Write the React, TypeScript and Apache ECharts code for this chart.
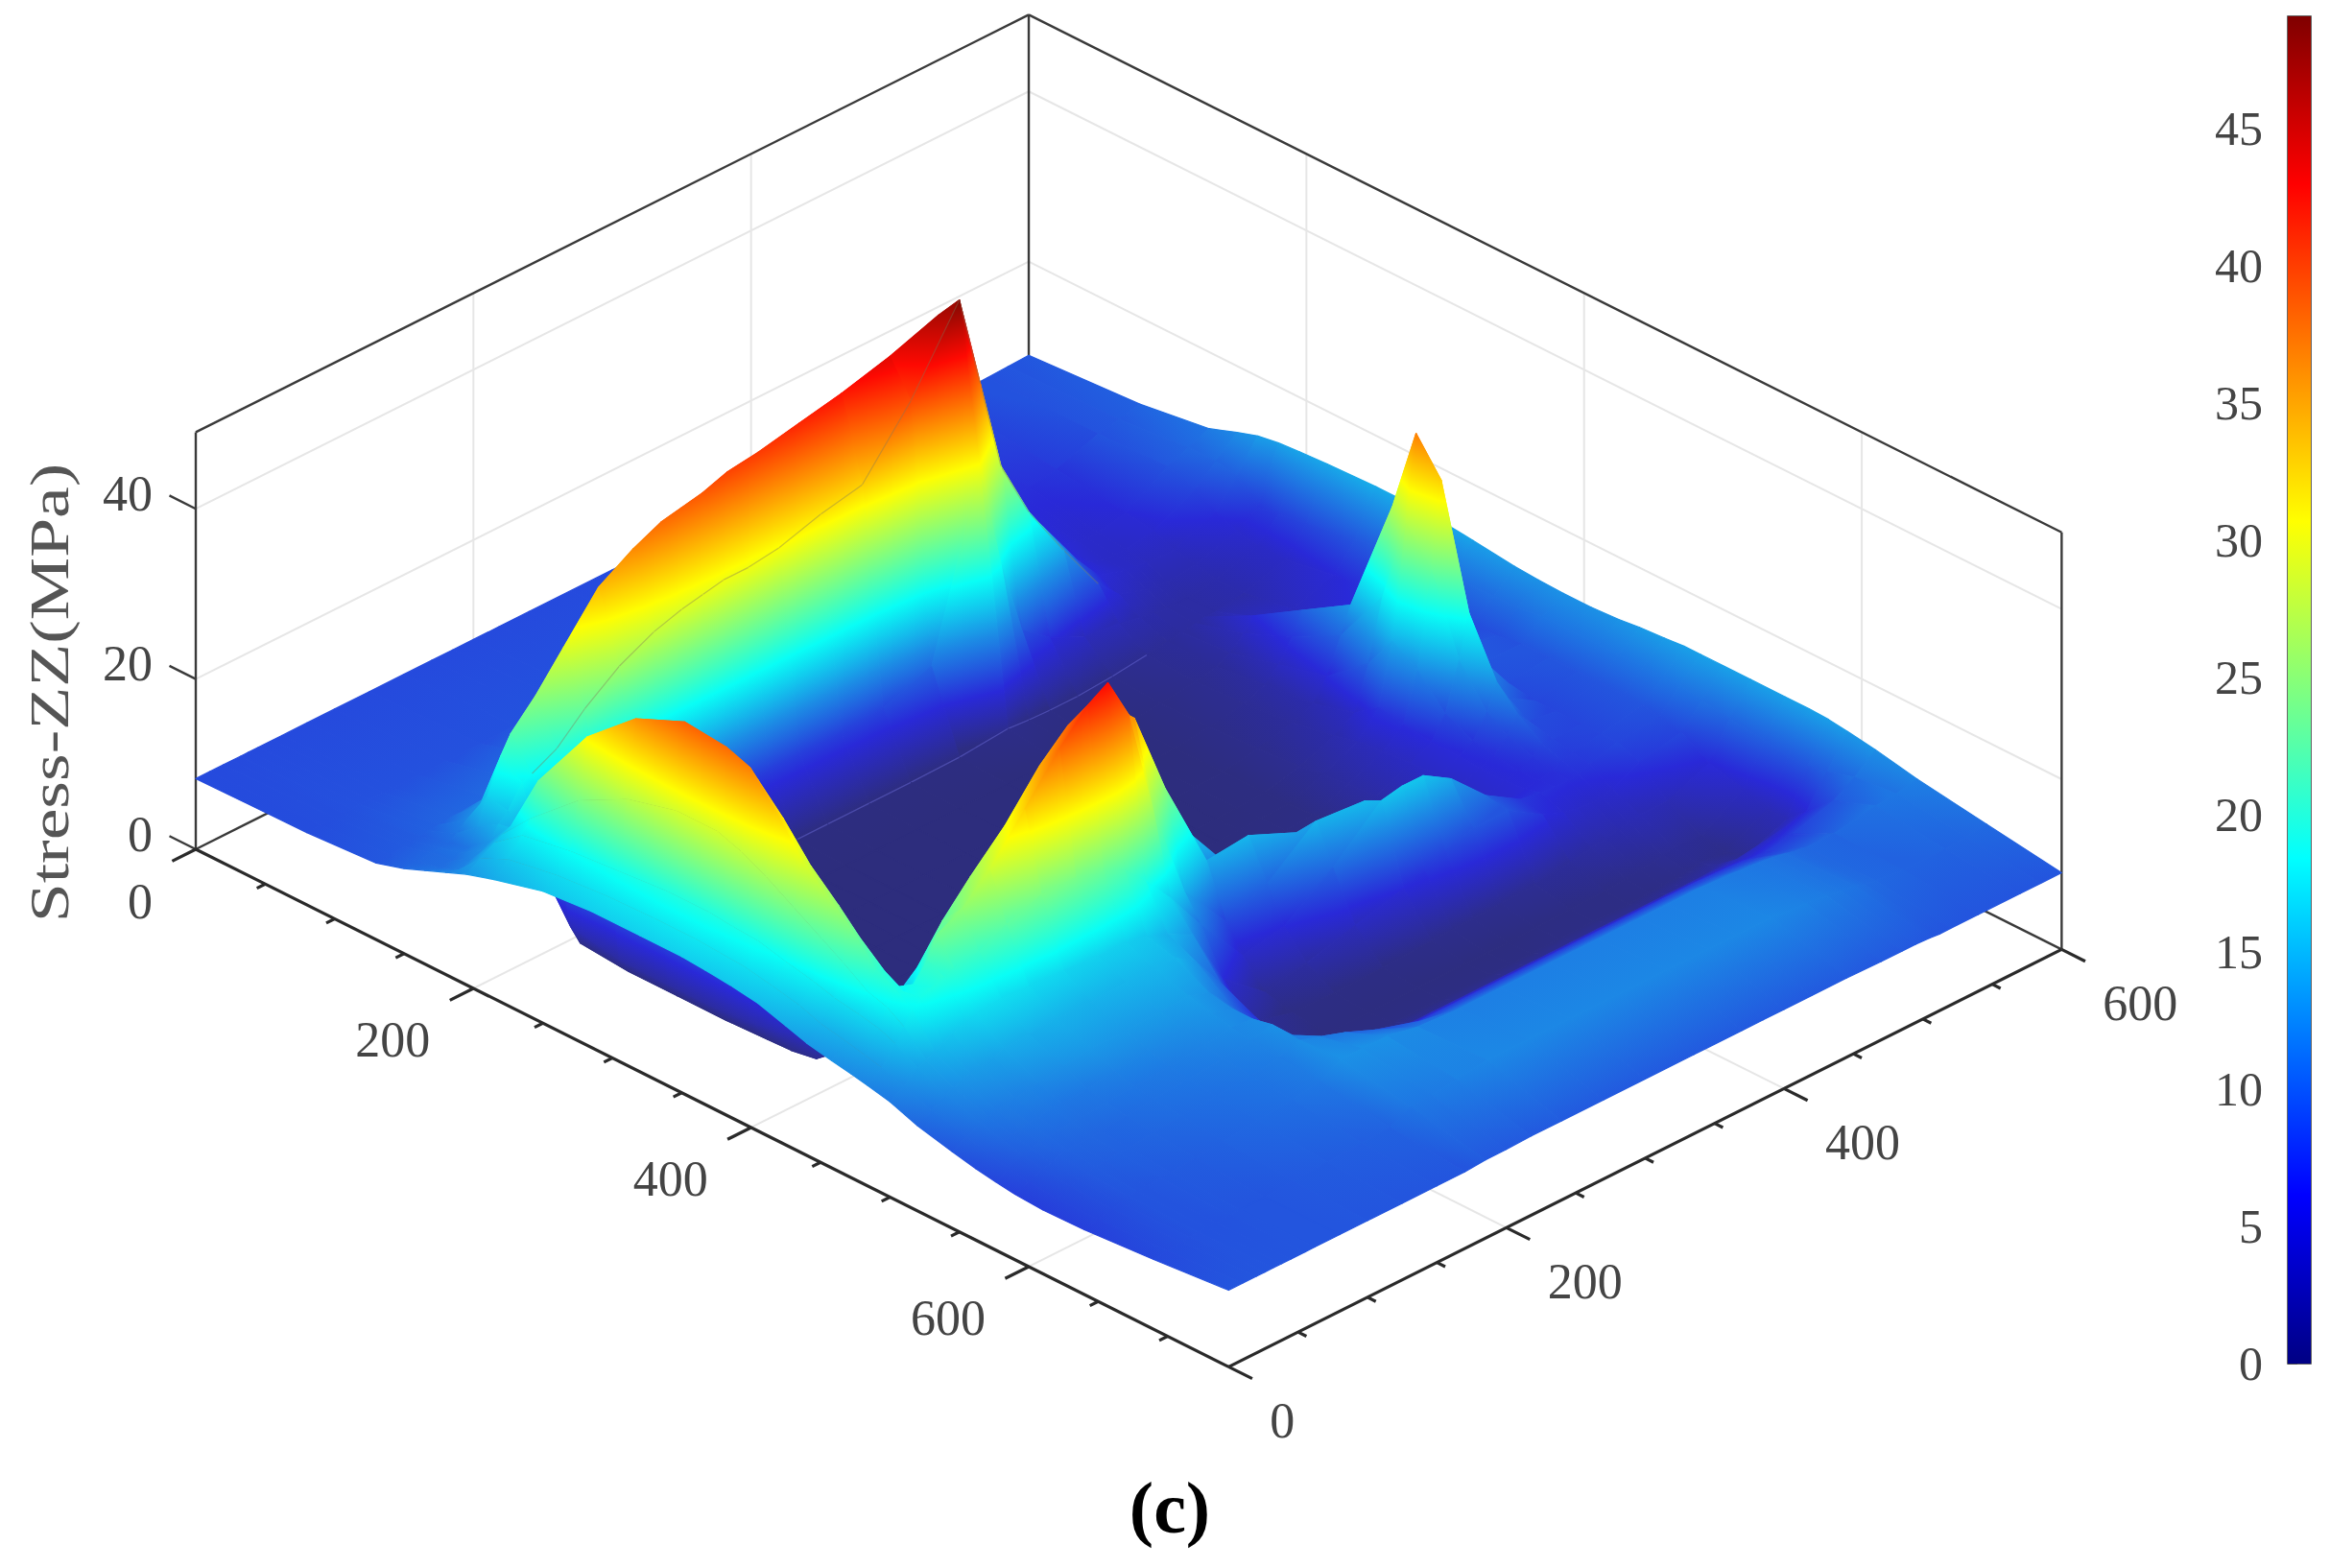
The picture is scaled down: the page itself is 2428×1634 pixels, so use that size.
import React, { useEffect, useRef } from "react";
import * as echarts from "echarts";

const WIDTH = 2428;
const HEIGHT = 1634;

// Surface sample positions (mm) and values (MPa).
const xGrid = [0, 80, 130, 150, 165, 180, 195, 215, 250, 285, 320, 350, 367, 385, 405, 425, 440, 458, 472, 484, 500, 520, 545, 562, 576, 590, 610, 640, 690, 744];
const yGrid = [0, 10, 20, 26, 32, 38, 45, 55, 62, 80, 100, 125, 150, 170, 185, 200, 218, 240, 270, 300, 335, 370, 385, 400, 420, 445, 470, 485, 495, 505, 512, 520, 540, 570, 585, 600];
const stressZZ = [
  [8.3,8.5,9,10,11,12,13,14,15.5,16,16,16,15.8,15.5,15,14,13.2,12.6,12.2,11.8,11.2,10,9,8.4,8,7.7,7.5,7.6,8.2,9],
  [8.3,8.5,9.2,10,10.5,11.5,14,15.5,16.5,17,17.2,17.2,17,16.8,16.2,15.5,14.6,14,13.5,13,12.2,11,10,9.2,8.7,8.3,8,8,8.4,9],
  [8.3,8.6,9.3,10.2,10.5,12,15,17.5,18.5,19,19.5,19.5,19.2,19,18.2,17.5,16.8,16.3,15.8,15,13.5,12,10.8,10,9.5,9,8.6,8.4,8.6,9],
  [8.3,8.6,9.4,10.3,11,12.5,15.5,19,24,27,28.5,28.5,27.5,26,24,22,20.5,18.5,17.8,16.5,14,12.4,11,10.2,9.8,9.3,8.9,8.6,8.7,9],
  [8.3,8.7,9.5,10.3,11,13,16,23,31,36,38.5,38,37,33.5,29,26,24,20.5,19.5,18,14.5,12.8,11.2,10.5,10,9.6,9.2,8.9,8.8,9],
  [8.3,8.7,9.7,11,13,14.5,15,20,29,34,36,36,35,32,28,25,22.5,20,18.7,19,15,13,11.4,10.7,10.2,9.8,9.4,9,8.8,9],
  [8.3,8.7,9.8,12,16,15.5,13,14,20,24,26,26,25,23,21,21,19,17.5,19,19.5,15.5,13.2,11.6,10.8,10.3,9.9,9.5,9,8.8,9],
  [8.3,8.7,10,13,20,18,9,4,3,3,3,3.5,4,5,9,14,13,16,21,20,16,13.5,11.8,11,10.5,10,9.7,9.2,8.9,9],
  [8.3,8.7,10,13.5,22,18.5,8,1.5,1,1,1,1.2,1.3,1.8,5,9,13,18.5,23.5,20.5,16.5,14,12,11,10.5,10,9.7,9.3,9,9],
  [8.3,8.7,10.2,15,25,20,7,1,0.8,0.8,0.8,0.9,1,1.2,2.5,7,13,22.5,25,21,16.8,14.2,12.5,11.2,10.8,10.3,10,9.5,9,9],
  [8.3,8.7,10.5,16,29,23,7,1,0.8,0.8,0.8,0.8,0.9,1,2,5,11,26,28,22.5,16.6,14.4,13,11.7,11,10.7,10.3,9.8,9.2,9],
  [8.3,8.7,11,18,34,26,7,1,0.7,0.7,0.7,0.7,0.8,0.9,1.5,4,10,30,33,24,16.4,14.4,13,12,11.3,11,10.6,10.2,9.4,9],
  [8.3,8.8,11.5,19,36.5,28,7,1,0.7,0.7,0.7,0.7,0.7,0.8,1.2,3.5,9,35,38,24,16,14.6,13.2,12.3,11.8,11.4,11,10.6,9.6,9],
  [8.3,8.8,12,20,38,29,7,0.9,0.7,0.7,0.7,0.7,0.7,0.8,1.2,3.5,10,38,41.5,23,16,14.6,13.4,12.7,12.2,11.8,11.4,11.2,9.8,9],
  [8.3,8.8,12,20,38.5,29.5,7,0.9,0.7,0.7,0.7,0.7,0.7,0.8,1.2,4,12,39,43,22,15.5,14.6,12.5,12,12,12.5,12.3,12.5,11,9.2],
  [8.3,8.8,12,20.5,39,30,7,0.9,0.7,0.7,0.7,0.7,0.7,0.8,1.3,5,15,38,38,19.5,14.5,13,10,9,9,10,11.5,12.5,11.2,9.2],
  [8.3,8.8,12,20.5,40,30,7.5,0.9,0.7,0.7,0.7,0.7,0.7,0.8,1.5,8,22,35,25,16,13,9,7,6,6,7.5,10.5,12.5,11.5,9.3],
  [8.3,8.8,12,21,40.5,30.5,7.5,0.9,0.7,0.7,0.7,0.7,0.7,0.8,2,10,24,25,14,11,6,2.5,1.5,1.5,2.5,6,9,11.8,12,9.3],
  [8.3,8.8,12,21,41.5,32,7.5,0.9,0.7,0.7,0.7,0.7,0.7,0.8,2,8,16.5,14,8,5,2,1.2,0.9,1,2.3,4.5,7.5,11.5,12,9.3],
  [8.3,8.8,12,22,42.5,33,8,0.9,0.7,0.7,0.7,0.7,0.7,0.8,1.5,4,10,14.5,10,6,3,1.1,0.9,1,2.2,4.5,7.5,11.5,12,9.3],
  [8.3,8.8,12,23,44,40,10,1,0.7,0.7,0.7,0.7,0.7,0.8,1.2,2.5,5,12,14.5,10,4.5,1.2,0.9,1,2,4.5,7.5,11.5,12,9.3],
  [8.3,8.8,12,24,46,49,30,1.5,0.7,0.7,0.7,0.7,0.7,0.8,1,1.8,3,8,14,15,6,1.5,0.9,1,2,4.5,7.5,11.5,12,9.3],
  [8.4,8.8,12,22,36,38,18,1.3,0.7,0.7,0.7,0.7,0.8,0.9,1,1.6,2.5,6,12,15.5,7,1.6,0.9,1,2,4.5,7.5,11.5,12,9.3],
  [8.4,8.8,11.5,18,27,27,9,1.2,0.7,0.7,0.8,0.8,0.9,1,1.2,1.6,2.5,4.5,10,15.5,8,1.6,0.9,1,2,4.5,7.5,11.5,12,9.3],
  [8.4,8.8,11,16,21,20,6.5,1.2,0.8,0.8,0.9,1,1,1.2,1.5,2,2.8,4,7.5,13.5,9,1.8,1,1.1,2,4.5,7.5,11.5,12,9.3],
  [8.4,8.8,10.5,13,15,13.5,4.5,1.5,1.2,1.3,1.6,2,2.4,2.8,3,3.5,4,4.5,6,9.5,9,2,1.1,1.1,2,4.5,7.5,11.5,12,9.3],
  [8.5,8.4,8,8,9,7.5,4,2,1.7,2,2.6,3.5,4.2,4.5,4.8,5,5,5.2,5.5,7,6.5,2.5,1.2,1.1,2,4.5,7.5,11.2,11.6,9.2],
  [8.5,7.5,7,6.5,6,5,3.5,2.3,2.2,3,3.6,5,7,6.5,6,6,5.8,5.8,6,6.5,5.5,3,1.4,1.2,2.2,4.5,7.4,11,11.3,9.2],
  [8.6,7,6,5.5,5.5,4.5,3.2,2.6,3,4.5,6,10,14,12,8.5,7,6.5,6.2,6.2,6.4,5.2,3.2,1.6,1.3,2.3,4.5,7.3,10.8,11,9.2],
  [8.6,6.5,5.5,5,5,4,3,2.8,4.5,7,10,17,27,23,14,9.5,8,7,6.5,6.4,5,3.5,1.8,1.4,2.4,4.5,7.2,10.5,10.8,9.1],
  [8.6,6.5,5.3,5,4.8,3.8,3,3,6,9.5,13,27,37,33,19,12.5,10,8,7.2,6.6,5.2,3.8,2,1.5,2.5,4.5,7,10.2,10.4,9],
  [8.6,6.5,5.3,5,4.6,3.6,3,3,5,7.5,11,17,24,20,13,10,8.5,7.8,7.4,7,5.4,4,2.2,1.7,2.7,4.5,7,10,10.2,9],
  [8.7,7,6,5.5,4.5,4,3.5,3.5,4.5,6,7,8.5,9.5,9,8.5,8,8,8,8,8,7,4,2,1.5,2,5,7.5,10,9.8,9],
  [8.8,8.7,9,8,6.5,5.5,5,5,6,7,8,8.5,8.5,9,9,9,9,9,9,8.5,8,6,5,4,4,6,9,10.8,9.8,9],
  [8.9,9.2,10,10,9.5,7,7.5,8,9,10,10.5,10.5,10.5,11,11,11,11,11,11,11,10.5,10,9.5,9,9,9.5,10.5,11,10,9],
  [9,9.8,11,12.2,13,13.4,13.6,13.8,14,14,13.4,12.8,12.6,12.5,12.5,12.7,13,13.2,13.4,13.4,13.4,13.4,13.4,13.4,13.3,13,12.5,11.5,10.3,9],
];

const xMax = 744;
const yMax = 600;
const zMax = 49;
const colorMax = 49.1;
const xTicks = [0, 50, 100, 150, 200, 250, 300, 350, 400, 450, 500, 550, 600, 650, 700];
const yTicks = [0, 50, 100, 150, 200, 250, 300, 350, 400, 450, 500, 550, 600];
const xLabels = [0, 200, 400, 600];
const yLabels = [0, 200, 400, 600];
const zLabels = [0, 20, 40];
const gridX = [200, 400, 600];
const gridY = [200, 400];
const gridZ = [20, 40];
const contourRows = [10, 20, 26];
const contourCols = [180, 215];

const PX = 1.4467;
const ORIGIN_X = 204;
const ORIGIN_Y = 885;
const hMin = -ORIGIN_X / PX;
const hMax = (WIDTH - ORIGIN_X) / PX;
const vMax = ORIGIN_Y / PX;
const vMin = (ORIGIN_Y - HEIGHT) / PX;
const projH = (x: number, y: number) => x + y;
const projV = (x: number, y: number, z: number) => (y - x) * 0.5011 + z * 6.131;

const JET: [number, number, number, number][] = [
  [0, 0, 0, 132],
  [0.125, 0, 0, 255],
  [0.375, 0, 255, 255],
  [0.625, 255, 255, 0],
  [0.875, 255, 0, 0],
  [1, 128, 0, 0],
];
const jetRaw = (t: number) => {
  const c = Math.max(0, Math.min(1, t));
  for (let i = 1; i < JET.length; i++) {
    if (c <= JET[i][0]) {
      const a = JET[i - 1];
      const b = JET[i];
      const f = (c - a[0]) / (b[0] - a[0]);
      return [a[1] + (b[1] - a[1]) * f, a[2] + (b[2] - a[2]) * f, a[3] + (b[3] - a[3]) * f];
    }
  }
  return [128, 0, 0];
};
const meshed = (t: number) => {
  const c = jetRaw(t);
  const m = t < 0.125 ? 0.2 - 0.16 * t : t < 0.25 ? 0.18 - 0.48 * (t - 0.125) : t < 0.375 ? 0.12 - 0.56 * (t - 0.25) : 0.04;
  return `rgb(${Math.round(c[0] * (1 - m) + 230 * m)},${Math.round(c[1] * (1 - m) + 230 * m)},${Math.round(c[2] * (1 - m) + 40 * m)})`;
};
const STOP_T = [0, 0.125, 0.25, 0.375, 0.625, 0.875, 1];

function cellFill(pts: number[][], zs: number[]) {
  const zmin = Math.min(...zs);
  const zmax = Math.max(...zs);
  const t0 = zmin / colorMax;
  const t1 = zmax / colorMax;
  if (zmax - zmin < 0.05) return meshed((t0 + t1) / 2);
  let cx = 0, cy = 0, cz = 0;
  for (let i = 0; i < 4; i++) { cx += pts[i][0] / 4; cy += pts[i][1] / 4; cz += zs[i] / 4; }
  let sxx = 0, sxy = 0, syy = 0, sxz = 0, syz = 0;
  for (let i = 0; i < 4; i++) {
    const dx = pts[i][0] - cx, dy = pts[i][1] - cy, dz = zs[i] - cz;
    sxx += dx * dx; sxy += dx * dy; syy += dy * dy; sxz += dx * dz; syz += dy * dz;
  }
  const det = sxx * syy - sxy * sxy;
  let a = 0, b = 0;
  if (Math.abs(det) > 1) {
    a = (sxz * syy - syz * sxy) / det;
    b = (syz * sxx - sxz * sxy) / det;
  }
  let g = a * a + b * b;
  if (g < 1e-8) {
    const iMin = zs.indexOf(zmin), iMax = zs.indexOf(zmax);
    const ex = pts[iMax][0] - pts[iMin][0], ey = pts[iMax][1] - pts[iMin][1];
    const e2 = ex * ex + ey * ey;
    if (e2 < 1e-3) return meshed((t0 + t1) / 2);
    a = (ex / e2) * (zmax - zmin);
    b = (ey / e2) * (zmax - zmin);
    g = a * a + b * b;
  }
  const sx = cx + ((zmin - cz) * a) / g;
  const sy = cy + ((zmin - cz) * b) / g;
  const ex = cx + ((zmax - cz) * a) / g;
  const ey = cy + ((zmax - cz) * b) / g;
  const stops = [{ offset: 0, color: meshed(t0) }];
  for (const t of STOP_T) {
    if (t > t0 && t < t1) stops.push({ offset: (t - t0) / (t1 - t0), color: meshed(t) });
  }
  stops.push({ offset: 1, color: meshed(t1) });
  return new echarts.graphic.LinearGradient(sx, sy, ex, ey, stops, true);
}

const surfaceCells: number[][] = [];
for (let i = 0; i < xGrid.length - 1; i++) {
  for (let j = yGrid.length - 2; j >= 0; j--) {
    surfaceCells.push([
      xGrid[i], xGrid[i + 1], yGrid[j], yGrid[j + 1],
      stressZZ[j][i], stressZZ[j][i + 1], stressZZ[j + 1][i + 1], stressZZ[j + 1][i],
    ]);
  }
}

type Seg = number[];
const wallGrid: Seg[] = [];
for (const z of gridZ) {
  wallGrid.push([0, 0, z, 0, yMax, z]);
  wallGrid.push([0, yMax, z, xMax, yMax, z]);
}
for (const y of gridY) {
  wallGrid.push([0, y, 0, 0, y, zMax]);
  wallGrid.push([0, y, 0, xMax, y, 0]);
}
for (const x of gridX) {
  wallGrid.push([x, yMax, 0, x, yMax, zMax]);
  wallGrid.push([x, 0, 0, x, yMax, 0]);
}
const frameThin: Seg[] = [
  [0, 0, 0, 0, yMax, 0],
  [0, yMax, 0, xMax, yMax, 0],
  [0, 0, 0, 0, 0, zMax],
  [0, yMax, 0, 0, yMax, zMax],
  [xMax, yMax, 0, xMax, yMax, zMax],
  [0, 0, zMax, 0, yMax, zMax],
  [0, yMax, zMax, xMax, yMax, zMax],
];
for (const z of zLabels) frameThin.push([0, 0, z, -19, 0, z]);
const frameBold: Seg[] = [
  [0, 0, 0, xMax, 0, 0],
  [xMax, 0, 0, xMax, yMax, 0],
];
for (const x of xTicks) frameBold.push([x, 0, 0, x, xLabels.includes(x) ? -17 : -6, 0]);
for (const y of yTicks) frameBold.push([xMax, y, 0, xMax + (yLabels.includes(y) ? 17 : 6), y, 0]);

const segSeries = (data: Seg[], color: string, width: number) => ({
  type: "custom",
  coordinateSystem: "cartesian2d",
  xAxisIndex: 0,
  yAxisIndex: 0,
  clip: false,
  silent: true,
  data,
  renderItem: (_: any, api: any) => {
    const p0 = api.coord([projH(api.value(0), api.value(1)), projV(api.value(0), api.value(1), api.value(2))]);
    const p1 = api.coord([projH(api.value(3), api.value(4)), projV(api.value(3), api.value(4), api.value(5))]);
    return {
      type: "line",
      shape: { x1: p0[0], y1: p0[1], x2: p1[0], y2: p1[1] },
      style: { stroke: color, lineWidth: width, fill: "none" },
    };
  },
});

type Label = { text: string; x: number; y: number; z: number; dx: number; dy: number; align: string };
const axisTexts: Label[] = [
  ...xLabels.map((v) => ({ text: String(v), x: v, y: 0, z: 0, dx: -45, dy: 54, align: "right" })),
  ...yLabels.map((v) => ({ text: String(v), x: xMax, y: v, z: 0, dx: 43, dy: 56, align: "left" })),
  ...zLabels.map((v) => ({ text: String(v), x: 0, y: 0, z: v, dx: -45, dy: -16, align: "right" })),
];

export default function App() {
  const ref = useRef<HTMLDivElement>(null);
  useEffect(() => {
    document.body.style.margin = "0";
    const chart = echarts.init(ref.current!, undefined, { renderer: "svg" });
    chart.setOption({
      animation: false,
      backgroundColor: "#ffffff",
      grid: [
        { left: 0, top: 0, width: WIDTH, height: HEIGHT, show: false },
        { left: 2384, top: 17, width: 24, height: 1404, show: true, borderColor: "#333", borderWidth: 1.5, backgroundColor: "transparent" },
      ],
      xAxis: [
        { type: "value", gridIndex: 0, min: hMin, max: hMax, show: false },
        { type: "value", gridIndex: 1, min: 0, max: 1, show: false },
      ],
      yAxis: [
        { type: "value", gridIndex: 0, min: vMin, max: vMax, show: false },
        {
          type: "value",
          gridIndex: 1,
          min: 0,
          max: colorMax,
          interval: 5,
          splitLine: { show: false },
          axisLine: { show: false },
          axisTick: { show: true, inside: true, length: 10, lineStyle: { color: "#444", width: 1.5 } },
          axisLabel: {
            show: true,
            showMaxLabel: false,
            margin: 26,
            fontFamily: "Liberation Serif",
            fontSize: 50,
            color: "#444",
          },
        },
      ],
      series: [
        segSeries(wallGrid, "#e6e6e6", 2),
        segSeries(frameThin, "#3a3a3a", 2.4),
        segSeries(frameBold, "#2a2a2a", 3.2),
        {
          type: "custom",
          coordinateSystem: "cartesian2d",
          xAxisIndex: 0,
          yAxisIndex: 0,
          clip: false,
          silent: true,
          data: surfaceCells,
          renderItem: (_: any, api: any) => {
            const x0 = api.value(0), x1 = api.value(1), y0 = api.value(2), y1 = api.value(3);
            const zs = [api.value(4), api.value(5), api.value(6), api.value(7)];
            const corners = [[x0, y0], [x1, y0], [x1, y1], [x0, y1]];
            const pts = corners.map((c, i) => api.coord([projH(c[0], c[1]), projV(c[0], c[1], zs[i])]));
            const fill = cellFill(pts, zs);
            const children: any[] = [
              {
                type: "polygon",
                shape: { points: pts },
                style: { fill, stroke: fill, lineWidth: 1.2, lineJoin: "round" },
              },
            ];
            if (contourRows.includes(y0) && x0 >= 195 && x0 < 484) {
              children.push({
                type: "line",
                shape: { x1: pts[0][0], y1: pts[0][1], x2: pts[1][0], y2: pts[1][1] },
                style: { stroke: "rgba(120,120,90,0.4)", lineWidth: 1.2, fill: "none" },
              });
            }
            if (contourCols.includes(x0) && y0 >= 62 && y0 < 470) {
              children.push({
                type: "line",
                shape: { x1: pts[0][0], y1: pts[0][1], x2: pts[3][0], y2: pts[3][1] },
                style: { stroke: x0 === 180 ? "rgba(130,120,90,0.4)" : "rgba(120,120,235,0.4)", lineWidth: 1.2, fill: "none" },
              });
            }
            return { type: "group", children };
          },
        },
        {
          type: "custom",
          coordinateSystem: "cartesian2d",
          xAxisIndex: 0,
          yAxisIndex: 0,
          clip: false,
          silent: true,
          data: axisTexts.map((_, i) => [i]),
          renderItem: (params: any, api: any) => {
            const t = axisTexts[params.dataIndex];
            const p = api.coord([projH(t.x, t.y), projV(t.x, t.y, t.z)]);
            return {
              type: "text",
              x: p[0] + t.dx,
              y: p[1] + t.dy,
              style: {
                text: t.text,
                fontFamily: "Liberation Serif",
                fontSize: 52,
                fill: "#444",
                align: t.align,
                verticalAlign: "middle",
              },
            };
          },
        },
        {
          type: "custom",
          coordinateSystem: "cartesian2d",
          xAxisIndex: 1,
          yAxisIndex: 1,
          silent: true,
          data: [[0, colorMax]],
          renderItem: (_: any, api: any) => {
            const a = api.coord([0, api.value(1)]);
            const b = api.coord([1, 0]);
            return {
              type: "rect",
              shape: { x: a[0], y: a[1], width: b[0] - a[0], height: b[1] - a[1] },
              style: {
                fill: new echarts.graphic.LinearGradient(0, 1, 0, 0, JET.map((k) => ({
                  offset: k[0],
                  color: `rgb(${k[1]},${k[2]},${k[3]})`,
                }))),
              },
            };
          },
        },
      ],
      graphic: [
        {
          type: "text",
          x: 51,
          y: 722,
          rotation: Math.PI / 2,
          scaleX: 1.27,
          style: {
            text: "Stress-ZZ(MPa)",
            fontFamily: "Liberation Serif",
            fontSize: 58,
            fill: "#555",
            align: "center",
            verticalAlign: "middle",
          },
        },
        {
          type: "text",
          x: 1219,
          y: 1571,
          style: {
            text: "(c)",
            fontFamily: "Liberation Serif",
            fontWeight: "bold",
            fontSize: 76,
            fill: "#000",
            align: "center",
            verticalAlign: "middle",
          },
        },
      ],
    });
    return () => chart.dispose();
  }, []);
  return <div ref={ref} style={{ position: "fixed", left: 0, top: 0, width: WIDTH, height: HEIGHT }} />;
}
